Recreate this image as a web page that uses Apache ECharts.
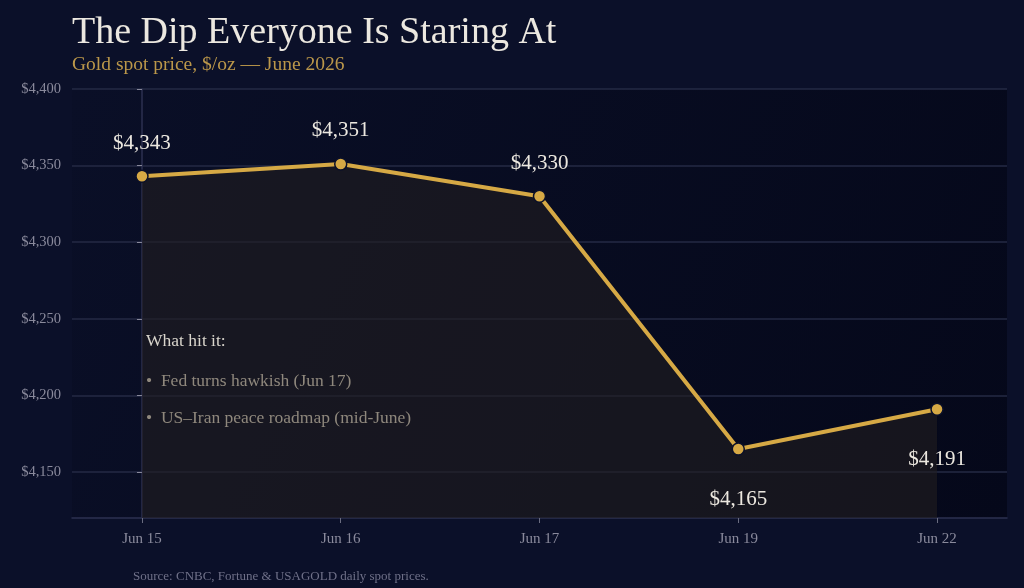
<!DOCTYPE html>
<html>
<head>
<meta charset="utf-8">
<script src="https://cdn.jsdelivr.net/npm/echarts@6.0.0/dist/echarts.min.js"></script>
<style>
	html, body { margin: 0; padding: 0; background: #0b1029; }
	#chart { width: 1024px; height: 588px; }
</style>
</head>
<body>
<div id="chart"></div>
<script type="text/javascript">
	// data
	var days = ['Jun 15', 'Jun 16', 'Jun 17', 'Jun 19', 'Jun 22'];
	var prices = [4343, 4351, 4330, 4165, 4191];
	var labelSide = ['top', 'top', 'top', 'bottom', 'bottom'];
	var yTicks = [4150, 4200, 4250, 4300, 4350, 4400];
	var notes = ['Fed turns hawkish (Jun 17)', 'US\u2013Iran peace roadmap (mid-June)'];

	var serif = '"Liberation Serif", "DejaVu Serif", serif';
	var gold = '#d6a945';

	var points = prices.map(function (v, i) {
		return {
			value: [i, v],
			label: { position: labelSide[i], distance: labelSide[i] == 'top' ? 16 : 33 }
		};
	});

	var myChart = echarts.init(document.getElementById('chart'));
	var option = {
		backgroundColor: '#0b1029',
		animation: false,
		title: [
			{
				text: 'The Dip Everyone Is Staring At',
				left: 67, top: 9,
				textStyle: { color: '#ece8e0', fontFamily: serif, fontSize: 38, fontWeight: 'normal' }
			},
			{
				text: 'Gold spot price, $/oz \u2014 June 2026',
				left: 67, top: 50,
				textStyle: { color: '#bb974a', fontFamily: serif, fontSize: 19.5, fontWeight: 'normal' }
			},
			{
				text: 'Source: CNBC, Fortune & USAGOLD daily spot prices.',
				left: 128, top: 565,
				textStyle: { color: '#6f7088', fontFamily: serif, fontSize: 13, fontWeight: 'normal' }
			}
		],
		graphic: [
			{
				type: 'text', left: 146, top: 332, z: 100,
				style: { text: 'What hit it:', fill: '#d9d5cc', font: '17.5px ' + serif }
			},
			{
				type: 'text', left: 146, top: 372, z: 100,
				style: { text: '\u2022  ' + notes[0], fill: '#8f887d', font: '17.5px ' + serif }
			},
			{
				type: 'text', left: 146, top: 409, z: 100,
				style: { text: '\u2022  ' + notes[1], fill: '#8f887d', font: '17.5px ' + serif }
			}
		],
		grid: {
			left: 72, right: 17, top: 89, bottom: 70,
			show: true,
			borderWidth: 0,
			backgroundColor: {
				type: 'linear', x: 0, y: 0, x2: 1, y2: 1,
				colorStops: [
					{ offset: 0, color: '#0a0f27' },
					{ offset: 1, color: '#05081a' }
				]
			}
		},
		xAxis: {
			type: 'value',
			min: -0.352, max: 4.352,
			axisLine: { show: true, lineStyle: { color: '#2c3150', width: 1.5 } },
			axisTick: { show: true, customValues: [0, 1, 2, 3, 4], length: 5, lineStyle: { color: '#6a6c80' } },
			axisLabel: {
				customValues: [0, 1, 2, 3, 4],
				formatter: function (v) { return days[Math.round(v)]; },
				color: '#8a8a9c', fontFamily: serif, fontSize: 15, margin: 14
			},
			splitLine: { show: false }
		},
		yAxis: {
			type: 'value',
			min: 4120, max: 4400,
			axisLine: { show: true, lineStyle: { color: '#2c3150', width: 1.5 } },
			axisTick: { show: true, customValues: yTicks, length: 5, lineStyle: { color: '#8a8a9c' } },
			axisLabel: {
				customValues: yTicks,
				formatter: function (v) { return '$' + v.toLocaleString('en-US'); },
				color: '#8a8a9c', fontFamily: serif, fontSize: 14.5, margin: 11
			},
			splitLine: { show: true, lineStyle: { color: '#252a45', width: 1.5 } }
		},
		series: [
			{
				type: 'line',
				data: points,
				z: 3,
				lineStyle: { color: gold, width: 4 },
				symbol: 'circle',
				symbolSize: 12,
				itemStyle: { color: gold, borderColor: '#0b1029', borderWidth: 1.5 },
				areaStyle: { color: 'rgba(34,30,32,0.85)', origin: 'start' },
				label: {
					show: true,
					formatter: function (p) { return '$' + p.value[1].toLocaleString('en-US'); },
					color: '#ece8e0', fontFamily: serif, fontSize: 21
				}
			}
		]
	};
	myChart.setOption(option);
</script>
</body>
</html>
